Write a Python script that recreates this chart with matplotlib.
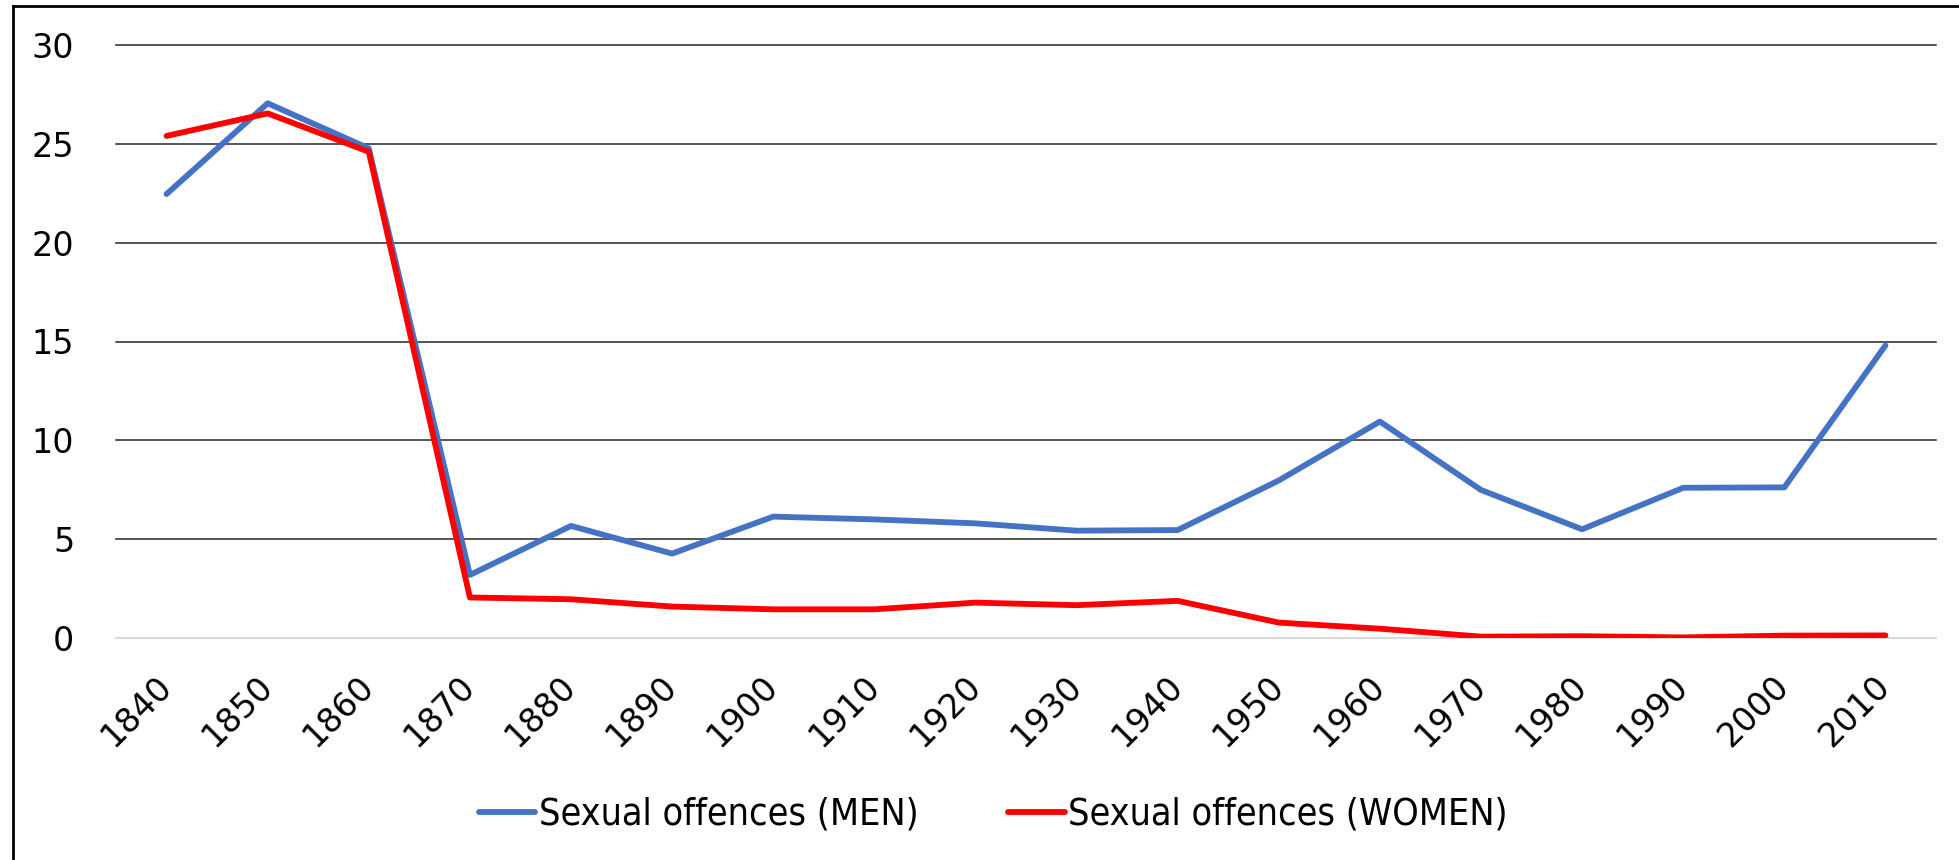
import matplotlib
matplotlib.use('Agg')
import matplotlib.pyplot as plt
from matplotlib.lines import Line2D

years = ['1840', '1850', '1860', '1870', '1880', '1890', '1900', '1910', '1920',
         '1930', '1940', '1950', '1960', '1970', '1980', '1990', '2000', '2010']
men = [22.46, 27.05, 24.77, 3.19, 5.67, 4.27, 6.14, 6.0, 5.8,
       5.43, 5.46, 7.97, 10.95, 7.49, 5.5, 7.6, 7.62, 14.8]
women = [25.4, 26.54, 24.6, 2.05, 1.96, 1.59, 1.45, 1.45, 1.79,
         1.66, 1.88, 0.78, 0.47, 0.07, 0.09, 0.03, 0.12, 0.13]

plt.rcParams['font.family'] = ['DejaVu Sans']

fig = plt.figure(figsize=(19.59, 8.6), dpi=100)
ax = fig.add_axes([116/1959, 1 - 638/860, (1936 - 116)/1959, (638 - 45)/860])

x = range(len(years))
ax.plot(x, men, color='#4472c4', lw=4.2, solid_capstyle='round', solid_joinstyle='round',
        label='Sexual offences (MEN)', zorder=3)
ax.plot(x, women, color='#ff0000', lw=4.2, solid_capstyle='round', solid_joinstyle='round',
        label='Sexual offences (WOMEN)', zorder=3)

ax.set_xlim(-0.5, len(years) - 0.5)
ax.set_ylim(0, 30)
ax.set_yticks([0, 5, 10, 15, 20, 25, 30])
ax.set_xticks(list(x))
ax.set_xticklabels(years, rotation=45, ha='right', va='center', rotation_mode='anchor')

for s in ax.spines.values():
    s.set_visible(False)
ax.tick_params(axis='both', length=0, labelsize=24)
ax.tick_params(axis='y', pad=30)
ax.tick_params(axis='x', pad=31)

for v in [5, 10, 15, 20, 25, 30]:
    ax.axhline(v, color='#262626', lw=1.1, zorder=1, clip_on=False)
ax.axhline(0, color='#d9d9d9', lw=1.5, zorder=1, clip_on=False)

ax.legend(loc='center', bbox_to_anchor=(0.507, 1 - 815/860), bbox_transform=fig.transFigure,
          ncol=2, frameon=False, handlelength=1.5, handletextpad=0.1,
          columnspacing=2.4, prop={'family': 'DejaVu Sans', 'stretch': 'condensed', 'size': 27})

# chart frame: only top and left edges are visible
fig.add_artist(Line2D([13/1959, 1], [1 - 6/860, 1 - 6/860], color='black', lw=2, transform=fig.transFigure))
fig.add_artist(Line2D([13/1959, 13/1959], [0, 1 - 6/860], color='black', lw=2, transform=fig.transFigure))

fig.savefig('out.png', dpi=100)
